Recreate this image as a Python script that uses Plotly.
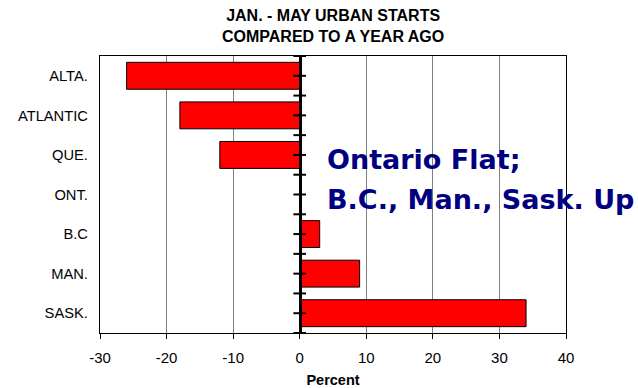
import plotly.graph_objects as go

# Urban housing starts, Jan.-May, percent change from a year earlier
provinces = ["ALTA.", "ATLANTIC", "QUE.", "ONT.", "B.C", "MAN.", "SASK."]
pct_change = [-26, -18, -12, 0, 3, 9, 34]

x_ticks = [-30, -20, -10, 0, 10, 20, 30, 40]
x_tick_text = ["-30", "-20", "-10", "0", "10", "20", "30", "40"]
x_range = [-30, 40]

# half-category steps along the zero axis, where the cross ticks sit
n_cat = len(provinces)
zero_ticks = [k / 2 - 0.5 for k in range(2 * n_cat + 1)]

font_main = "Liberation Sans, Arial, sans-serif"

fig = go.Figure()
fig.add_trace(go.Bar(
    x=pct_change,
    y=provinces,
    orientation="h",
    marker=dict(color="#FF0000", line=dict(color="black", width=1)),
    width=0.68,
    showlegend=False,
))

# cross ticks on the zero axis
fig.add_trace(go.Scatter(
    x=[0] * len(zero_ticks),
    y=zero_ticks,
    yaxis="y2",
    mode="markers",
    marker=dict(symbol="line-ew", size=9, line=dict(color="black", width=2)),
    cliponaxis=False,
    showlegend=False,
    hoverinfo="skip",
))

zero_pos = (0 - x_range[0]) / (x_range[1] - x_range[0])

fig.update_layout(
    width=638,
    height=388,
    margin=dict(l=100, r=72, t=56, b=55),
    paper_bgcolor="white",
    plot_bgcolor="white",
    font=dict(family=font_main, size=15, color="black"),
    xaxis=dict(
        range=x_range,
        tickvals=x_ticks,
        ticktext=x_tick_text,
        ticks="outside", ticklen=5, tickcolor="black", tickwidth=1,
        ticklabelstandoff=6,
        showline=True, linecolor="black", linewidth=1, mirror=True,
        showgrid=True, gridcolor="#808080", gridwidth=1,
        zeroline=False,
        automargin=False,
        tickfont=dict(size=15),
        title=dict(text="<b>Percent</b>", font=dict(size=14.5), standoff=12),
    ),
    yaxis=dict(
        type="category",
        categoryorder="array",
        categoryarray=provinces,
        autorange="reversed",
        showline=True, linecolor="black", linewidth=1, mirror=True,
        ticks="", showgrid=False, zeroline=False,
        automargin=False,
        ticksuffix="  ",
        tickfont=dict(size=14.7),
    ),
    # zero axis drawn over the bars
    yaxis2=dict(
        overlaying="y", anchor="free", position=zero_pos, side="left",
        range=[zero_ticks[-1], zero_ticks[0]],
        ticks="", showticklabels=False, showgrid=False, zeroline=False,
        automargin=False,
        showline=True, linecolor="black", linewidth=2.5, layer="above traces",
    ),
    bargap=0.32,
)

# chart title
fig.add_annotation(
    text="<b>JAN. - MAY URBAN STARTS<br>COMPARED TO A YEAR AGO</b>",
    xref="paper", yref="paper",
    x=0.5, y=1 + (56 - 26) / 277,
    xanchor="center", yanchor="middle", align="center",
    showarrow=False,
    font=dict(family=font_main, size=16, color="black"),
)

# commentary text
callout_font = dict(family="DejaVu Sans, sans-serif", size=27, color="#000080")
for line, y_px in (("<b>Ontario Flat;</b>", 159), ("<b>B.C., Man., Sask. Up</b>", 199)):
    fig.add_annotation(
        text=line,
        xref="paper", yref="paper",
        x=(325 - 100) / 466, y=(333 - y_px) / 277,
        xanchor="left", yanchor="middle", align="left",
        showarrow=False,
        font=callout_font,
    )

fig.write_html("out.html")
